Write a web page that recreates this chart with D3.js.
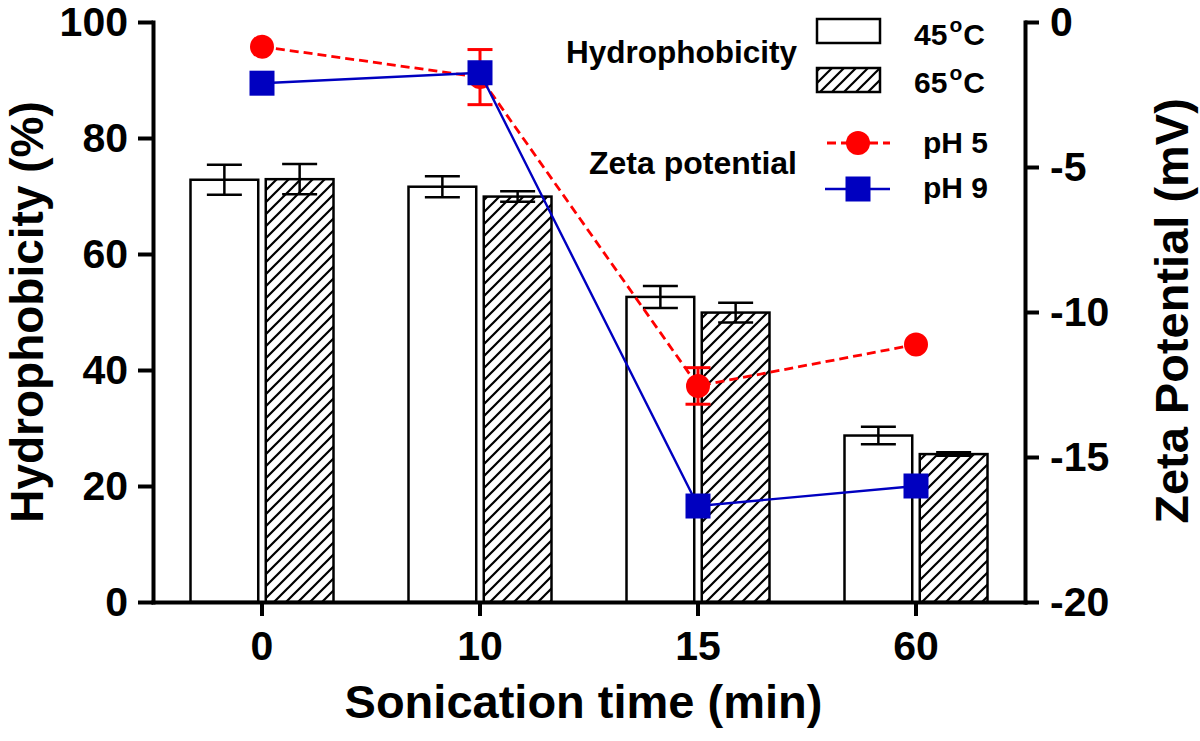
<!DOCTYPE html>
<html>
<head>
<meta charset="utf-8">
<script src="https://cdn.jsdelivr.net/npm/d3@7"></script>
<style>
  html, body { margin: 0; padding: 0; background: #fff; }
  svg { display: block; }
  text { font-family: "Liberation Sans", Arial, Helvetica, sans-serif; font-weight: bold; fill: #000; }
</style>
</head>
<body>
<svg id="chart" width="1200" height="741"></svg>
<script>
// ---- data ----
const categories = ["0", "10", "15", "60"];
const seriesNames = ["45", "65"];
const hydro45 = [72.8, 71.6, 52.6, 28.7];
const hydro45Err = [2.6, 1.8, 1.9, 1.5];
const hydro65 = [72.9, 69.9, 49.9, 25.5];
const hydro65Err = [2.6, 0.9, 1.7, 0.3];
const zetaPH5 = [-0.85, -1.9, -12.55, -11.12];
const zetaPH5Err = [0, 0.95, 0.63, 0];
const zetaPH9 = [-2.11, -1.75, -16.69, -16.0];
const leftTicks = [0, 20, 40, 60, 80, 100];
const rightTicks = [-20, -15, -10, -5, 0];

const svg = d3.select("#chart");
const RED = "#ff0000", BLUE = "#0000c0";

// hatch pattern
const defs = svg.append("defs");
const pat = defs.append("pattern").attr("id", "hatch")
  .attr("patternUnits", "userSpaceOnUse").attr("width", 12).attr("height", 12);
pat.append("rect").attr("width", 12).attr("height", 12).attr("fill", "#fff");
pat.append("path").attr("d", "M-3,3 L3,-3 M0,12 L12,0 M9,15 L15,9")
  .attr("stroke", "#000").attr("stroke-width", 2.2);

// scales
const x = d3.scaleBand().domain(categories).range([153, 1025]).padding(0);
const xs = d3.scaleBand().domain(seriesNames).range([-71.5, 71.5]).paddingInner(0.1);
const y = d3.scaleLinear().domain([0, 100]).range([602, 22]);
const yz = d3.scaleLinear().domain([-20, 0]).range([602, 22]);
const cx = c => x(c) + x.bandwidth() / 2;

// bars
const barData = [];
categories.forEach((c, i) => {
  barData.push({c, s: "45", v: hydro45[i], e: hydro45Err[i]});
  barData.push({c, s: "65", v: hydro65[i], e: hydro65Err[i]});
});
const gBars = svg.append("g");
gBars.selectAll("rect").data(barData).join("rect")
  .attr("x", d => cx(d.c) + xs(d.s))
  .attr("width", xs.bandwidth())
  .attr("y", d => y(d.v))
  .attr("height", d => y(0) - y(d.v))
  .attr("fill", d => d.s === "45" ? "#fff" : "url(#hatch)")
  .attr("stroke", "#000").attr("stroke-width", 2.5);

// bar error bars
const gErr = svg.append("g").attr("stroke", "#000").attr("stroke-width", 2.5);
barData.forEach(d => {
  const bx = cx(d.c) + xs(d.s) + xs.bandwidth() / 2;
  gErr.append("line").attr("x1", bx).attr("x2", bx).attr("y1", y(d.v + d.e)).attr("y2", y(d.v - d.e));
  gErr.append("line").attr("x1", bx - 17.5).attr("x2", bx + 17.5).attr("y1", y(d.v + d.e)).attr("y2", y(d.v + d.e));
  gErr.append("line").attr("x1", bx - 17.5).attr("x2", bx + 17.5).attr("y1", y(d.v - d.e)).attr("y2", y(d.v - d.e));
});

// axes
const axL = svg.append("g").attr("transform", "translate(153,0)")
  .call(d3.axisLeft(y).tickValues(leftTicks).tickSize(15).tickSizeOuter(0).tickPadding(10).tickFormat(d => String(d)));
const axR = svg.append("g").attr("transform", "translate(1025,0)")
  .call(d3.axisRight(yz).tickValues(rightTicks).tickSize(14).tickSizeOuter(0).tickPadding(11).tickFormat(d => String(d)));
const axB = svg.append("g").attr("transform", "translate(0,602)")
  .call(d3.axisBottom(x).tickSize(14).tickSizeOuter(0).tickPadding(15));
[axL, axR, axB].forEach(a => {
  a.select(".domain").attr("stroke", "#000").attr("stroke-width", 4).attr("stroke-linecap", "square");
  a.selectAll(".tick line").attr("stroke", "#000").attr("stroke-width", 4);
  a.selectAll(".tick text").attr("fill", "#000")
    .style("font-family", '"Liberation Sans", Arial, sans-serif')
    .style("font-weight", "bold").style("font-size", "41px");
});

// zeta lines
const line = d3.line().x((d, i) => cx(categories[i])).y(d => yz(d));
svg.append("path").datum(zetaPH5).attr("d", line)
  .attr("fill", "none").attr("stroke", RED).attr("stroke-width", 2.8).attr("stroke-dasharray", "9,5");
// red error bars
const gRedErr = svg.append("g").attr("stroke", RED).attr("stroke-width", 3);
zetaPH5.forEach((v, i) => {
  const e = zetaPH5Err[i];
  if (!e) return;
  const px = cx(categories[i]);
  gRedErr.append("line").attr("x1", px).attr("x2", px).attr("y1", yz(v + e)).attr("y2", yz(v - e));
  gRedErr.append("line").attr("x1", px - 12.5).attr("x2", px + 12.5).attr("y1", yz(v + e)).attr("y2", yz(v + e));
  gRedErr.append("line").attr("x1", px - 12.5).attr("x2", px + 12.5).attr("y1", yz(v - e)).attr("y2", yz(v - e));
});
svg.append("g").selectAll("circle").data(zetaPH5).join("circle")
  .attr("cx", (d, i) => cx(categories[i])).attr("cy", d => yz(d)).attr("r", 12).attr("fill", RED);

svg.append("path").datum(zetaPH9).attr("d", line)
  .attr("fill", "none").attr("stroke", BLUE).attr("stroke-width", 2.4);
svg.append("g").selectAll("rect").data(zetaPH9).join("rect")
  .attr("x", (d, i) => cx(categories[i]) - 12.5).attr("y", d => yz(d) - 12.5)
  .attr("width", 25).attr("height", 25).attr("fill", BLUE);

// axis titles
svg.append("text").attr("transform", "translate(43,312) rotate(-90)")
  .attr("text-anchor", "middle").style("font-size", "46px").text("Hydrophobicity (%)");
svg.append("text").attr("transform", "translate(1188,311) rotate(-90)")
  .attr("text-anchor", "middle").style("font-size", "47px").text("Zeta Potential (mV)");
svg.append("text").attr("x", 583.5).attr("y", 718)
  .attr("text-anchor", "middle").style("font-size", "47px").text("Sonication time (min)");

// legend
const lg = svg.append("g");
lg.append("text").attr("x", 797).attr("y", 63).attr("text-anchor", "end").style("font-size", "31.5px").text("Hydrophobicity");
lg.append("text").attr("x", 797).attr("y", 174).attr("text-anchor", "end").style("font-size", "32px").text("Zeta potential");
lg.append("rect").attr("x", 817).attr("y", 19).attr("width", 63).attr("height", 24)
  .attr("fill", "#fff").attr("stroke", "#000").attr("stroke-width", 2.5);
lg.append("rect").attr("x", 817).attr("y", 68).attr("width", 63).attr("height", 24)
  .attr("fill", "url(#hatch)").attr("stroke", "#000").attr("stroke-width", 2.5);
[["45", 45], ["65", 93]].forEach(([t, by]) => {
  const tx = lg.append("text").attr("x", 914).attr("y", by).style("font-size", "30px");
  tx.append("tspan").text(t);
  tx.append("tspan").attr("dy", -13).attr("dx", 2).style("font-size", "21px").text("o");
  tx.append("tspan").attr("dy", 13).attr("dx", 1).text("C");
});
lg.append("line").attr("x1", 825).attr("x2", 890).attr("y1", 143).attr("y2", 143)
  .attr("stroke", RED).attr("stroke-width", 2.8).attr("stroke-dasharray", "9,5").attr("stroke-dashoffset", -2);
lg.append("circle").attr("cx", 858).attr("cy", 143).attr("r", 12).attr("fill", RED);
lg.append("line").attr("x1", 825).attr("x2", 890).attr("y1", 189).attr("y2", 189)
  .attr("stroke", BLUE).attr("stroke-width", 2.4);
lg.append("rect").attr("x", 845.5).attr("y", 176.5).attr("width", 25).attr("height", 25).attr("fill", BLUE);
lg.append("text").attr("x", 923).attr("y", 153).style("font-size", "30px").text("pH 5");
lg.append("text").attr("x", 923).attr("y", 198).style("font-size", "30px").text("pH 9");
</script>
</body>
</html>
